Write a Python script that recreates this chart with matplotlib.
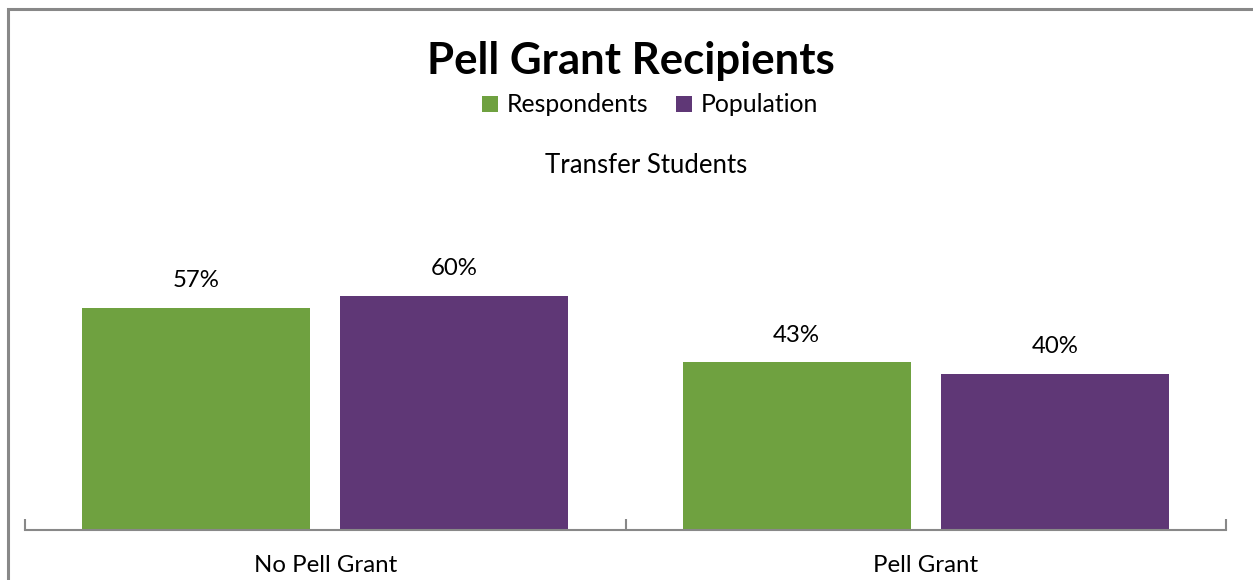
import matplotlib
matplotlib.use("Agg")
import matplotlib.pyplot as plt
from matplotlib.patches import Rectangle
import numpy as np

categories = ["No Pell Grant", "Pell Grant"]
series_names = ["Respondents", "Population"]
respondents = [57, 43]
population = [60, 40]
colors = ["#6FA140", "#5F3776"]

plt.rcParams["font.family"] = ["Lato", "DejaVu Sans"]

W, H = 1253, 580
fig = plt.figure(figsize=(W / 100, H / 100), dpi=100)

# outer chart frame
fig.patches.append(Rectangle((7.5 / W, -0.1), 1.2, (H - 8.5) / H + 0.1,
                             transform=fig.transFigure, fill=False,
                             edgecolor="#888888", linewidth=2.2))

ax = fig.add_axes([25 / W, 50 / H, 1201 / W, 390 / H])
x = np.arange(len(categories))
width = 0.38
offset = 0.215
for vals, name, col, dx in [(respondents, series_names[0], colors[0], -offset),
                            (population, series_names[1], colors[1], offset)]:
    bars = ax.bar(x + dx, vals, width, color=col, label=name)
    for b, v in zip(bars, vals):
        ax.text(b.get_x() + b.get_width() / 2, v + 7.0, f"{v}%",
                ha="center", va="center", fontsize=17.3, color="#000000")

ax.set_xlim(-0.5, 1.5)
ax.set_ylim(0, 100)
for s in ["top", "right", "left"]:
    ax.spines[s].set_visible(False)
ax.spines["bottom"].set_color("#888888")
ax.spines["bottom"].set_linewidth(1.5)
ax.set_yticks([])
ax.set_xticks([-0.5, 0.5, 1.5])
ax.set_xticklabels([])
ax.tick_params(axis="x", direction="in", length=8, width=1.5, color="#888888")
for i, c in enumerate(categories):
    ax.text(i, -0.092, c, transform=ax.get_xaxis_transform(), ha="center",
            va="center", fontsize=17.3)

fig.text(631 / W, 1 - 61 / H, "Pell Grant Recipients", ha="center", va="center",
         fontsize=31.5, fontweight="bold")
fig.text(646 / W, 1 - 165 / H, "Transfer Students", ha="center", va="center",
         fontsize=18.5)
fig.legend(loc="center", bbox_to_anchor=(650 / W, 1 - 105 / H), ncol=2,
           frameon=False, fontsize=17.8, handlelength=0.65, handleheight=0.65,
           handletextpad=0.35, columnspacing=1.1)

fig.savefig("out.png", dpi=100)
